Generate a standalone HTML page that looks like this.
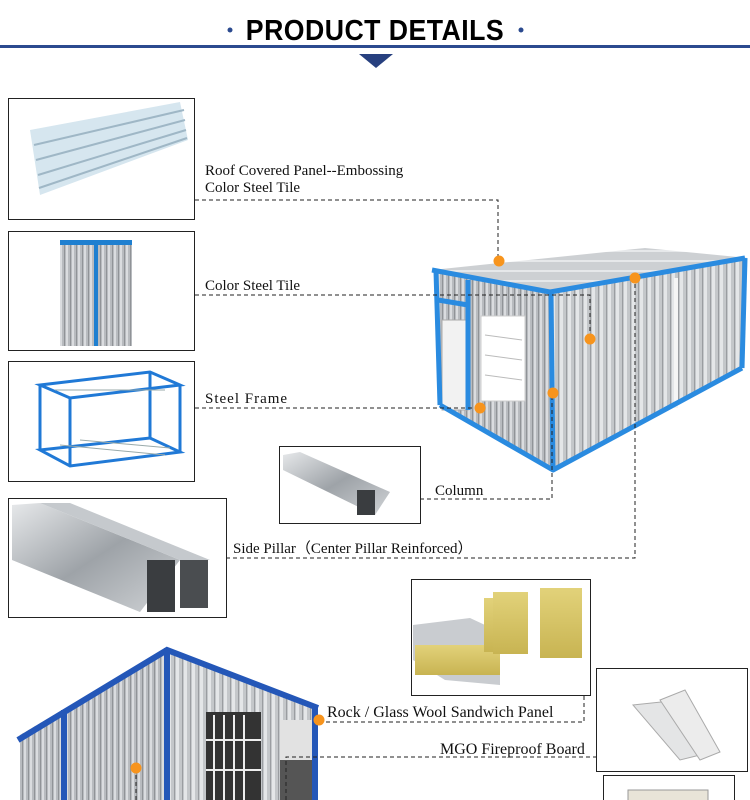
<!DOCTYPE html>
<html><head><meta charset="utf-8"><style>
html,body{margin:0;padding:0;background:#fff;width:750px;height:800px;overflow:hidden}
svg{display:block}
text{font-family:"Liberation Serif",serif;font-size:15px;fill:#111}
</style></head><body>
<svg width="750" height="800" viewBox="0 0 750 800" xmlns="http://www.w3.org/2000/svg">
<defs>
<pattern id="corr" width="8" height="10" patternUnits="userSpaceOnUse">
<rect width="8" height="10" fill="#c4c7ca"/><rect x="0" width="3" height="10" fill="#e4e6e8"/><rect x="6" width="1" height="10" fill="#9a9da1"/>
</pattern>
<pattern id="corr2" width="6" height="10" patternUnits="userSpaceOnUse">
<rect width="6" height="10" fill="#b8bbbf"/><rect x="0" width="2" height="10" fill="#dadcdf"/><rect x="4" width="1" height="10" fill="#909397"/>
</pattern>
<pattern id="roof" width="10" height="10" patternUnits="userSpaceOnUse">
<rect width="10" height="10" fill="#cdd0d3"/><rect width="10" height="2" fill="#e6e8ea"/>
</pattern>
<linearGradient id="steel" x1="0" y1="0" x2="1" y2="1"><stop offset="0" stop-color="#e6e8ea"/><stop offset=".5" stop-color="#9ea3a8"/><stop offset="1" stop-color="#d0d3d6"/></linearGradient>
<linearGradient id="wool" x1="0" y1="0" x2="0" y2="1"><stop offset="0" stop-color="#e2d27a"/><stop offset="1" stop-color="#c8b452"/></linearGradient>
</defs>

<!-- header -->
<text x="375" y="40" text-anchor="middle" style="font-family:'Liberation Sans',sans-serif;font-weight:bold;font-size:29px;fill:#000;letter-spacing:0.5px" transform="translate(375 0) scale(0.92 1) translate(-375 0)">PRODUCT DETAILS</text>
<circle cx="230" cy="30" r="2.5" fill="#2b4a8f"/><circle cx="521" cy="30" r="2.5" fill="#2b4a8f"/>
<rect x="0" y="45" width="750" height="3" fill="#2b4a8f"/>
<polygon points="359,54 393,54 376,68" fill="#27407f"/>

<!-- boxes -->
<g fill="#fff" stroke="#222" stroke-width="1">
<rect x="8.5" y="98.5" width="186" height="121"/>
<rect x="8.5" y="231.5" width="186" height="119"/>
<rect x="8.5" y="361.5" width="186" height="120"/>
<rect x="279.5" y="446.5" width="141" height="77"/>
<rect x="8.5" y="498.5" width="218" height="119"/>
<rect x="411.5" y="579.5" width="179" height="116"/>
<rect x="596.5" y="668.5" width="151" height="103"/>
<rect x="603.5" y="775.5" width="131" height="30"/>
</g>
<polygon points="30,130 180,102 188,140 40,195" fill="#d6e6ef"/>
<g stroke="#9fb7c6" stroke-width="2"><line x1="34" y1="145" x2="184" y2="110"/><line x1="36" y1="160" x2="185" y2="120"/><line x1="38" y1="175" x2="186" y2="130"/><line x1="39" y1="188" x2="187" y2="138"/></g>
<rect x="60" y="240" width="72" height="106" fill="url(#corr2)"/>
<rect x="60" y="240" width="72" height="5" fill="#1e7fd0"/><rect x="94" y="240" width="4" height="106" fill="#1e7fd0"/>
<g stroke="#2079d6" stroke-width="3" fill="none">
<polygon points="40,385 150,372 180,385 70,398"/>
<polygon points="40,450 150,438 180,452 70,466"/>
<line x1="40" y1="385" x2="40" y2="450"/><line x1="70" y1="398" x2="70" y2="466"/><line x1="180" y1="385" x2="180" y2="452"/><line x1="150" y1="372" x2="150" y2="438"/>
</g>
<g stroke="#9aa" stroke-width="1"><line x1="60" y1="445" x2="165" y2="455"/><line x1="80" y1="440" x2="170" y2="448"/><line x1="55" y1="390" x2="165" y2="390"/></g>
<polygon points="283,455 300,452 390,492 375,515 283,470" fill="url(#steel)"/>
<rect x="357" y="490" width="18" height="25" fill="#3a3d40"/>
<polygon points="12,505 40,503 180,560 140,612 12,560" fill="url(#steel)"/>
<polygon points="40,503 70,503 210,560 180,560" fill="#c5c9cd"/>
<rect x="147" y="560" width="28" height="52" fill="#3a3d40"/><rect x="180" y="560" width="28" height="48" fill="#4a4d50"/>
<polygon points="413,625 470,618 500,632 500,685 445,680 413,660" fill="#c9ccd0"/>
<rect x="415" y="645" width="85" height="30" fill="url(#wool)"/>
<rect x="484" y="598" width="10" height="54" fill="url(#wool)"/>
<rect x="493" y="592" width="35" height="62" fill="url(#wool)"/>
<rect x="540" y="588" width="42" height="70" fill="url(#wool)"/>
<polygon points="633,705 680,700 700,755 680,760" fill="#e4e5e6" stroke="#aaa"/>
<polygon points="660,700 685,690 720,752 700,760" fill="#ececec" stroke="#aaa"/>
<rect x="628" y="790" width="80" height="15" fill="#e8e4d8" stroke="#999"/>

<!-- top container -->
<polygon points="432,270 645,248 748,258 550,292" fill="url(#roof)"/>
<polygon points="435,272 550,292 553,470 440,405" fill="url(#corr2)"/>
<polygon points="550,292 745,258 742,368 553,470" fill="url(#corr)"/>
<rect x="442" y="320" width="26" height="90" fill="#f2f2f2" stroke="#aaa"/>
<rect x="481" y="316" width="44" height="85" fill="#fff" stroke="#ccc"/>
<g stroke="#bbb"><line x1="485" y1="335" x2="522" y2="340"/><line x1="485" y1="355" x2="522" y2="360"/><line x1="485" y1="375" x2="522" y2="380"/></g>
<rect x="674" y="278" width="4" height="130" fill="#f5f5f5"/>
<g stroke="#2a8be0" stroke-width="5" fill="none" stroke-linejoin="round">
<polyline points="432,270 550,292 745,258"/>
<polyline points="440,405 553,470 742,368"/>
<line x1="436" y1="271" x2="440" y2="405"/><line x1="551" y1="292" x2="553" y2="470"/><line x1="745" y1="258" x2="742" y2="368"/>
<line x1="438" y1="300" x2="468" y2="305"/><line x1="468" y1="280" x2="468" y2="410"/>
</g>

<!-- bottom container -->
<polygon points="20,735 167,648 167,800 20,800" fill="url(#corr2)"/>
<polygon points="167,648 318,705 318,800 167,800" fill="url(#corr)"/>
<rect x="280" y="720" width="34" height="40" fill="#e2e2e2"/>
<rect x="280" y="760" width="34" height="40" fill="#555"/>
<rect x="206" y="712" width="55" height="90" fill="#333"/>
<g stroke="#eee" stroke-width="2"><line x1="214" y1="715" x2="214" y2="800"/><line x1="224" y1="715" x2="224" y2="800"/><line x1="234" y1="715" x2="234" y2="800"/><line x1="244" y1="715" x2="244" y2="800"/><line x1="206" y1="740" x2="261" y2="740"/><line x1="206" y1="770" x2="261" y2="770"/></g>
<g stroke="#2457b8" stroke-width="6" fill="none">
<polyline points="18,740 167,650 318,708"/>
<line x1="167" y1="648" x2="167" y2="800"/><line x1="315" y1="708" x2="315" y2="800"/><line x1="64" y1="710" x2="64" y2="800"/>
</g>

<!-- connectors -->
<g stroke="#222" stroke-width="1" stroke-dasharray="4,3" fill="none">
<polyline points="195,200 498,200 498,261"/>
<polyline points="195,295 590,295 590,339"/>
<polyline points="195,408 480,408"/>
<polyline points="420,499 552,499 552,394"/>
<polyline points="226,558 635,558 635,278"/>
<polyline points="319,722 584,722 584,695"/>
<polyline points="286,800 286,757 596,757"/>
<line x1="136" y1="768" x2="136" y2="800"/>
</g>
<g fill="#f7941d">
<circle cx="499" cy="261" r="5.5"/><circle cx="635" cy="278" r="5.5"/><circle cx="590" cy="339" r="5.5"/>
<circle cx="553" cy="393" r="5.5"/><circle cx="480" cy="408" r="5.5"/>
<circle cx="319" cy="720" r="5.5"/><circle cx="136" cy="768" r="5.5"/>
</g>

<!-- labels -->
<text x="205" y="175">Roof Covered  Panel--Embossing</text>
<text x="205" y="192">Color Steel Tile</text>
<text x="205" y="290">Color Steel Tile</text>
<text x="205" y="403" style="letter-spacing:1px">Steel Frame</text>
<text x="435" y="495">Column</text>
<text x="233" y="553">Side Pillar（Center Pillar Reinforced）</text>
<text x="327" y="717" style="font-size:16px">Rock / Glass Wool Sandwich Panel</text>
<text x="440" y="754" style="font-size:16px">MGO Fireproof Board</text>
</svg>
</body></html>
